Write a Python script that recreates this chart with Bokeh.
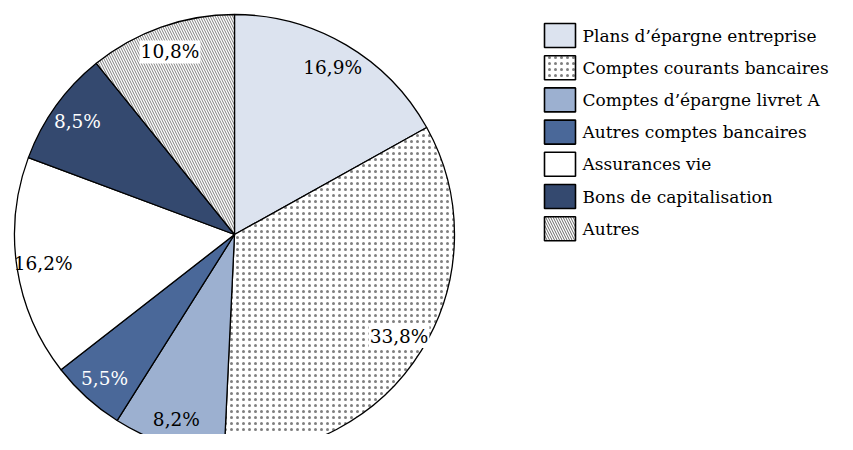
import math
from bokeh.plotting import figure
from bokeh.models import Range1d, ColumnDataSource
from bokeh.core.properties import value
from bokeh.embed import file_html
from bokeh.resources import INLINE

# ---- data ----
categories = ["Plans d\u2019épargne entreprise", "Comptes courants bancaires",
              "Comptes d\u2019épargne livret A", "Autres comptes bancaires",
              "Assurances vie", "Bons de capitalisation", "Autres"]
shares = [16.9, 33.8, 8.2, 5.5, 16.2, 8.5, 10.8]
labels = ["16,9%", "33,8%", "8,2%", "5,5%", "16,2%", "8,5%", "10,8%"]

# ---- styles ----
fills = ["#dce3ef", "white", "#9cb0d0", "#4a6899", "white", "#34496f", "white"]
hatches = [" ", ".", " ", " ", " ", " ", "\\"]
hatch_scales = [6, 6, 6, 6, 6, 6, 5]
hatch_alphas = [1, 0.5, 1, 1, 1, 1, 0.85]
text_colors = ["black", "black", "black", "white", "black", "white", "black"]
label_bg = [None, "white", None, None, None, None, "white"]
FONT = "DejaVu Serif"

W, H = 837, 434
p = figure(width=W, height=H, output_backend="svg", toolbar_location=None,
           x_range=Range1d(0, W), y_range=Range1d(450 - H, 450),
           min_border=0)
p.axis.visible = False
p.grid.visible = False
p.outline_line_color = None
p.background_fill_color = "white"

cx, cy, R = 234, 450 - 234, 220
total = sum(shares)
starts, ends, lx, ly = [], [], [], []
cum = 0.0
for s in shares:
    a0 = math.pi / 2 - cum / total * 2 * math.pi
    cum += s
    a1 = math.pi / 2 - cum / total * 2 * math.pi
    starts.append(a0)
    ends.append(a1)
    mid = (a0 + a1) / 2
    lx.append(cx + 0.88 * R * math.cos(mid))
    ly.append(cy + 0.88 * R * math.sin(mid))

src = ColumnDataSource(dict(start=starts, end=ends, fill=fills, hatch=hatches,
                            hs=hatch_scales, ha=hatch_alphas, cat=categories))
p.wedge(x=cx, y=cy, radius=R, start_angle="start", end_angle="end",
        direction="clock", source=src, fill_color="fill",
        hatch_pattern="hatch", hatch_color="black", hatch_scale="hs",
        hatch_weight=0.6, hatch_alpha="ha", line_color="black", line_width=1.3)

# labels
plain = [i for i in range(len(labels)) if label_bg[i] is None]
boxed = [i for i in range(len(labels)) if label_bg[i] is not None]
p.text(x=[lx[i] for i in plain], y=[ly[i] for i in plain],
       text=[labels[i] for i in plain],
       text_color=[text_colors[i] for i in plain],
       text_font=value(FONT), text_font_size="18.5px",
       text_align="center", text_baseline="middle")
p.text(x=[lx[i] for i in boxed], y=[ly[i] for i in boxed],
       text=[labels[i] for i in boxed],
       text_color=[text_colors[i] for i in boxed],
       text_font=value(FONT), text_font_size="18.5px",
       text_align="center", text_baseline="middle",
       background_fill_color="white", padding=1)

# legend
lg_x0, lg_y0, step = 544, 35, 32.2
rows_y = [450 - (lg_y0 + i * step) for i in range(len(categories))]
p.rect(x=[lg_x0 + 15.5] * len(categories), y=rows_y, width=31, height=24,
       fill_color=fills, hatch_pattern=hatches, hatch_color="black",
       hatch_scale=hatch_scales, hatch_weight=0.7, hatch_alpha=hatch_alphas,
       line_color="black", line_width=1.6)
p.text(x=[582] * len(categories), y=rows_y, text=categories,
       text_font=value(FONT), text_font_size="17px", text_color="black",
       text_align="left", text_baseline="middle")

open("out.html", "w").write(file_html(p, INLINE))
